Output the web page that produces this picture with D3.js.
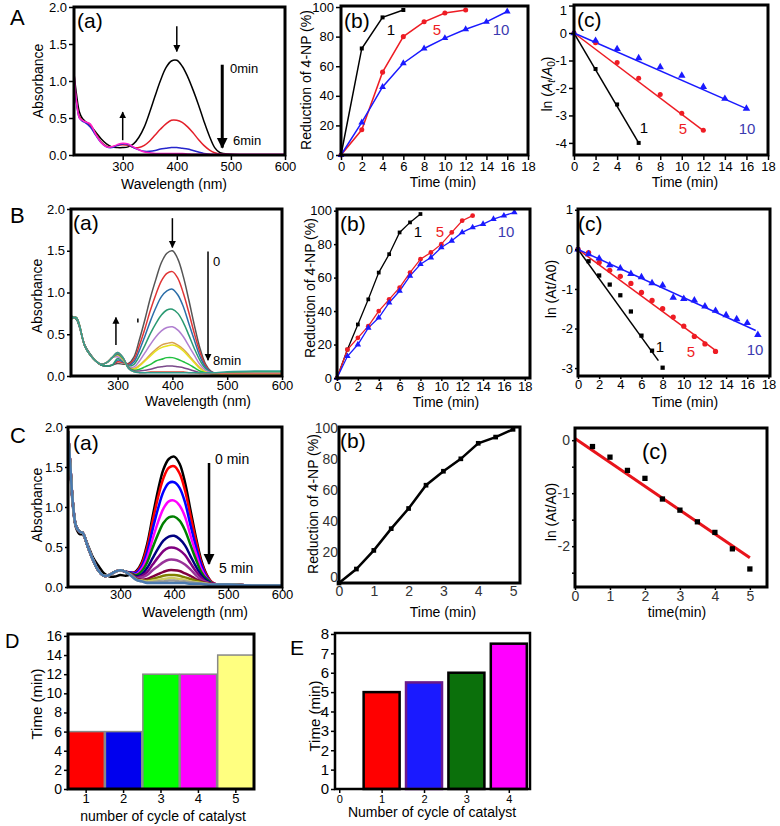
<!DOCTYPE html>
<html><head><meta charset="utf-8">
<script src="https://cdn.jsdelivr.net/npm/d3@7"></script>
<style>body{margin:0;background:#fff}svg{display:block}</style>
</head><body><svg id="c" width="780" height="826"></svg>
<script>
// ================= DATA =================
// Panel A(a) spectra
const WL_A = [210,215,220,225,230,240,250,260,270,280,290,300,310,320,330,340,350,360,370,380,390,400,410,420,430,440,450,460,470,480,500,550,600];
const A_spec_black = [1.10,0.80,0.58,0.50,0.46,0.40,0.31,0.22,0.15,0.11,0.10,0.10,0.11,0.15,0.24,0.38,0.58,0.80,1.01,1.18,1.27,1.28,1.20,1.06,0.88,0.68,0.46,0.26,0.10,0.03,0.01,0.0,0.0];
const A_spec_red   = [1.00,0.70,0.52,0.47,0.45,0.40,0.29,0.18,0.12,0.11,0.13,0.14,0.13,0.10,0.10,0.13,0.19,0.27,0.35,0.42,0.47,0.47,0.44,0.38,0.30,0.21,0.13,0.07,0.03,0.01,0.005,0,0];
const A_spec_blue  = [0.95,0.68,0.50,0.46,0.44,0.38,0.27,0.17,0.11,0.10,0.13,0.15,0.14,0.10,0.07,0.05,0.05,0.06,0.08,0.09,0.10,0.10,0.09,0.08,0.06,0.04,0.02,0.01,0.005,0,0,0,0];
const A_spec_mag   = [1.12,0.70,0.50,0.47,0.45,0.42,0.28,0.17,0.11,0.11,0.14,0.16,0.15,0.11,0.07,0.04,0.03,0.02,0.02,0.02,0.02,0.02,0.02,0.015,0.01,0.01,0.01,0.01,0.01,0.01,0.01,0.01,0.01];
const A_spec_colors = ['#000000','#e3202a','#2626cc','#ff22cc'];

// Panel A(b), A(c)
const A_t1 = [0,2,4,6];
const A_t5 = [0,2,4,6,8,10,12];
const A_t10 = [0,2,4,6,8,10,12,14,16];
const A_red1 = [0,72,93,98];
const A_red5 = [0,17,56,80,90,96,98];
const A_red10 = [0,22,46,62,72,79,85,90,97];
const A_ln1 = [0,-1.31,-2.6,-4.0];
const A_ln5 = [0,-0.35,-1.07,-1.65,-2.24,-2.92,-3.54];
const A_ln10 = [0,-0.28,-0.58,-0.91,-1.24,-1.55,-1.96,-2.39,-2.75];
const A_fitEndT = [6,12,16];
const A_fitEndY = [-4.0,-3.55,-2.75];
const series_labels = ['1','5','10'];

// Panel B(a) spectra
const WL_B = [215,220,225,230,240,250,260,270,280,290,300,310,320,330,340,350,360,370,380,390,400,410,420,430,440,450,460,470,480,500,550,600];
const B_left_early = [0.72,0.70,0.68,0.60,0.37,0.26,0.18,0.13,0.12,0.13];
const B_left_late  = [0.68,0.70,0.70,0.62,0.36,0.25,0.18,0.14,0.16,0.22];
const B_right = [
  [0.15,0.14,0.15,0.23,0.44,0.68,0.94,1.16,1.36,1.47,1.50,1.40,1.19,0.91,0.61,0.34,0.15,0.06,0.03,0.02,0.02,0.02],
  [0.17,0.16,0.14,0.20,0.37,0.57,0.79,0.98,1.14,1.23,1.25,1.17,0.99,0.76,0.51,0.29,0.13,0.05,0.03,0.02,0.02,0.02],
  [0.19,0.17,0.13,0.17,0.31,0.48,0.66,0.82,0.95,1.02,1.04,0.97,0.83,0.63,0.43,0.24,0.11,0.05,0.03,0.02,0.02,0.02],
  [0.21,0.18,0.12,0.14,0.24,0.37,0.51,0.63,0.73,0.79,0.80,0.75,0.64,0.49,0.33,0.19,0.09,0.04,0.03,0.03,0.03,0.03],
  [0.23,0.19,0.11,0.11,0.18,0.28,0.38,0.47,0.54,0.58,0.59,0.55,0.47,0.36,0.25,0.14,0.07,0.04,0.03,0.03,0.03,0.03],
  [0.25,0.20,0.10,0.09,0.13,0.19,0.26,0.32,0.37,0.39,0.40,0.37,0.32,0.25,0.17,0.10,0.05,0.03,0.02,0.02,0.02,0.02],
  [0.26,0.20,0.10,0.08,0.12,0.18,0.24,0.30,0.34,0.36,0.37,0.35,0.30,0.23,0.16,0.09,0.05,0.03,0.02,0.02,0.02,0.02],
  [0.26,0.21,0.10,0.07,0.08,0.11,0.14,0.18,0.20,0.22,0.22,0.20,0.17,0.14,0.10,0.06,0.04,0.03,0.03,0.04,0.05,0.05],
  [0.27,0.22,0.10,0.06,0.06,0.07,0.08,0.10,0.11,0.12,0.12,0.11,0.10,0.08,0.06,0.04,0.03,0.03,0.03,0.03,0.03,0.03],
  [0.28,0.22,0.09,0.05,0.04,0.04,0.05,0.05,0.05,0.05,0.05,0.05,0.05,0.04,0.04,0.03,0.03,0.03,0.03,0.03,0.03,0.03],
  [0.28,0.22,0.09,0.05,0.04,0.04,0.04,0.04,0.04,0.04,0.04,0.04,0.04,0.04,0.04,0.04,0.04,0.04,0.04,0.05,0.06,0.06]
];
const B_spec_colors = ['#555555','#e03535','#2c6ea8','#2a9a72','#b07fd0','#d9a050','#e6e020','#22c040','#7a4a8a','#e07060','#30a090'];

// Panel B(b), B(c)
const B_t1 = [0,1,2,3,4,5,6,7,8];
const B_t5 = [0,1,2,3,4,5,6,7,8,9,10,11,12,13];
const B_t10 = [0,1,2,3,4,5,6,7,8,9,10,11,12,13,14,15,16,17];
const B_red1 = [0,17,32,47,63,74,87,93,98];
const B_red5 = [0,17,24,31,40,47,54,63,71,75,80,87,94,97];
const B_red10 = [0,13,20,30,36,45,52,61,68,72,78,82,87,90,92,95,97,99];
const B_ln1 = [0,-0.30,-0.66,-0.89,-1.16,-1.57,-2.18,-2.56,-2.99];
const B_ln5 = [0,-0.08,-0.33,-0.53,-0.68,-0.86,-1.09,-1.29,-1.50,-1.71,-1.94,-2.20,-2.39,-2.58];
const B_ln10 = [0,-0.12,-0.23,-0.40,-0.48,-0.62,-0.70,-0.85,-0.91,-1.22,-1.25,-1.29,-1.44,-1.55,-1.66,-1.76,-1.86,-2.16];
const B_fitEndT = [7.6,13,16.8];
const B_fitEndY = [-2.81,-2.55,-2.05];

// Panel C(a) spectra
const WL_C = [203,207,212,218,225,230,240,250,260,270,280,290,300,310,320,330,340,350,360,370,380,390,400,410,420,430,440,450,460,470,480,500,550,600];
const C_left_black  = [1.90,1.50,1.02,0.74,0.66,0.66,0.52,0.36,0.26,0.17,0.13,0.13,0.15,0.14];
const C_left_common = [1.95,1.55,1.05,0.76,0.69,0.68,0.50,0.33,0.20,0.14,0.15,0.19,0.21,0.19];
const C_right = [
  [0.16,0.20,0.31,0.54,0.88,1.21,1.47,1.60,1.63,1.54,1.31,0.97,0.63,0.34,0.16,0.06,0.03,0.03,0.02,0.02],
  [0.18,0.19,0.29,0.50,0.82,1.12,1.36,1.49,1.51,1.42,1.21,0.90,0.59,0.31,0.15,0.06,0.03,0.03,0.02,0.02],
  [0.18,0.18,0.26,0.44,0.72,0.98,1.19,1.30,1.31,1.24,1.06,0.78,0.51,0.28,0.13,0.05,0.03,0.03,0.02,0.02],
  [0.17,0.16,0.23,0.37,0.60,0.81,0.98,1.07,1.08,1.02,0.88,0.65,0.43,0.23,0.11,0.05,0.03,0.03,0.02,0.02],
  [0.17,0.15,0.20,0.31,0.49,0.66,0.80,0.87,0.88,0.83,0.71,0.53,0.35,0.19,0.10,0.05,0.03,0.03,0.02,0.02],
  [0.16,0.13,0.16,0.24,0.36,0.48,0.58,0.63,0.64,0.60,0.52,0.39,0.26,0.15,0.08,0.04,0.03,0.03,0.02,0.02],
  [0.16,0.12,0.14,0.19,0.28,0.37,0.45,0.49,0.49,0.46,0.40,0.30,0.20,0.12,0.06,0.04,0.03,0.03,0.02,0.02],
  [0.15,0.11,0.12,0.15,0.21,0.26,0.31,0.34,0.34,0.32,0.28,0.22,0.15,0.09,0.06,0.04,0.03,0.03,0.02,0.02],
  [0.15,0.10,0.09,0.10,0.13,0.16,0.19,0.21,0.21,0.20,0.17,0.14,0.10,0.07,0.05,0.04,0.03,0.03,0.02,0.02],
  [0.15,0.10,0.08,0.08,0.10,0.12,0.14,0.15,0.15,0.14,0.12,0.10,0.08,0.06,0.04,0.03,0.03,0.03,0.02,0.02],
  [0.15,0.09,0.08,0.07,0.08,0.09,0.10,0.11,0.11,0.10,0.09,0.07,0.06,0.05,0.04,0.03,0.03,0.03,0.02,0.02],
  [0.14,0.09,0.07,0.06,0.06,0.07,0.07,0.08,0.08,0.07,0.07,0.06,0.05,0.04,0.04,0.03,0.03,0.03,0.02,0.02],
  [0.14,0.09,0.07,0.05,0.05,0.05,0.05,0.05,0.05,0.05,0.05,0.04,0.04,0.04,0.03,0.03,0.03,0.03,0.02,0.02]
];
const C_spec_colors = ['#000000','#ff0000','#0000ff','#ff00ff','#008000','#000080','#800080','#993399','#800040','#808000','#cccc66','#999999','#4a7ab0'];

// Panel C(b), C(c)
const C_t = [0,0.5,1,1.5,2,2.5,3,3.5,4,4.5,5];
const C_red = [0,9,21,35,48,63,72,80,90,94,99];
const C_tln = [0.5,1,1.5,2,2.5,3,3.5,4,4.5,5];
const C_ln = [-0.12,-0.32,-0.57,-0.72,-1.11,-1.32,-1.54,-1.74,-2.05,-2.43];
const C_fitT = [0,5];
const C_fitY = [0.03,-2.22];

// Panel D, E
const D_cycles = ['1','2','3','4','5'];
const D_time = [6,6,12,12,14];
const D_colors = ['#ff0000','#0000ee','#00ff00','#ff00ff','#ffff80'];
const E_cycles = [1,2,3,4];
const E_time = [5,5.5,6,7.5];
const E_colors = ['#ff0000','#1a1aff','#0b700b','#ff00ff'];
const E_strokes = ['#000','#6a1a8a','#000','#000'];

// ================= DRAWING =================
const FONT = "'Liberation Sans', Arial, Helvetica, sans-serif";
const svg = d3.select('#c');
svg.append('rect').attr('width',780).attr('height',826).attr('fill','#fff');
const defs = svg.append('defs');
[['ahS',9,7],['ahB',14,11]].forEach(([id,l,w])=>{
  defs.append('marker').attr('id',id).attr('viewBox','0 0 10 10').attr('refX',9).attr('refY',5)
    .attr('markerUnits','userSpaceOnUse').attr('markerWidth',w).attr('markerHeight',l).attr('orient','auto')
    .append('path').attr('d','M0,0 L10,5 L0,10 z').attr('fill','#000');
});
let cid = 0;
function makePanel(box, xd, yd){
  const [x0,y0,x1,y1]=box;
  const x=d3.scaleLinear().domain(xd).range([x0,x1]);
  const y=d3.scaleLinear().domain(yd).range([y1,y0]);
  const id='cp'+(cid++);
  defs.append('clipPath').attr('id',id).append('rect').attr('x',x0).attr('y',y0).attr('width',x1-x0).attr('height',y1-y0);
  const g=svg.append('g');
  const plot=g.append('g').attr('clip-path',`url(#${id})`);
  return {x,y,g,plot,box};
}
function axes(p,o){
  const [x0,y0,x1,y1]=p.box;
  const bx=d3.axisBottom(p.x).tickValues(o.xt).tickSize(o.ts??5).tickPadding(o.tpx??2).tickFormat(o.xf||String);
  const gx=p.g.append('g').attr('transform',`translate(0,${y1})`).call(bx);
  const by=d3.axisLeft(p.y).tickValues(o.yt).tickSize(o.ts??5).tickPadding(o.tpy??2).tickFormat(o.yf||String);
  const gy=p.g.append('g').attr('transform',`translate(${x0},0)`).call(by);
  [gx,gy].forEach(a=>{
    a.select('.domain').remove();
    a.attr('font-family',FONT).attr('font-size',o.fs||13);
    a.selectAll('line').attr('stroke-width',o.tw||1.5);
    a.selectAll('text').attr('fill',o.tc||'#000');
  });
  if(o.top!==undefined) gy.selectAll('.tick').filter(d=>d===o.top).select('text').attr('dy','0.7em');
  if(o.bottomUp!==undefined) gy.selectAll('.tick').filter(d=>d===o.bottomUp).select('text').attr('dy','-0.1em');
  p.g.append('rect').attr('x',x0).attr('y',y0).attr('width',x1-x0).attr('height',y1-y0)
    .attr('fill','none').attr('stroke','#000').attr('stroke-width',o.bw||3);
  return {gx,gy};
}
function T(x,y,s,o={}){
  return svg.append('text').attr('x',x).attr('y',y).text(s).attr('font-family',FONT)
    .attr('font-size',o.fs||14).attr('fill',o.c||'#000').attr('text-anchor',o.a||'start');
}
function VT(x,y,s,fs){
  return svg.append('text').attr('transform',`translate(${x},${y}) rotate(-90)`).text(s)
    .attr('font-family',FONT).attr('font-size',fs||14).attr('text-anchor','middle');
}
function arrow(x1,y1,x2,y2,w,m){
  svg.append('line').attr('x1',x1).attr('y1',y1).attr('x2',x2).attr('y2',y2)
    .attr('stroke','#000').attr('stroke-width',w).attr('marker-end',`url(#${m})`);
}
function spectrum(p,wl,vals,color,w){
  const line=d3.line().x((d,i)=>p.x(wl[i])).y(d=>p.y(d)).curve(d3.curveCatmullRom.alpha(0.5));
  p.plot.append('path').attr('d',line(vals)).attr('fill','none').attr('stroke',color).attr('stroke-width',w);
}
function series(p,ts,vs,color,w){
  const line=d3.line().x((d,i)=>p.x(ts[i])).y(d=>p.y(d));
  p.g.append('path').attr('d',line(vs)).attr('fill','none').attr('stroke',color).attr('stroke-width',w);
}
function symbols(p,ts,vs,type,size,color){
  const sym=d3.symbol().type(type).size(size);
  p.g.selectAll(null).data(vs).enter().append('path').attr('d',sym)
    .attr('transform',(d,i)=>`translate(${p.x(ts[i])},${p.y(d)})`).attr('fill',color);
}
function fitLine(p,t0,y0,t1,y1,color,w){
  p.g.append('line').attr('x1',p.x(t0)).attr('y1',p.y(y0)).attr('x2',p.x(t1)).attr('y2',p.y(y1))
    .attr('stroke',color).attr('stroke-width',w);
}
function lnLabel(x,y,subs,fs){
  const t=svg.append('text').attr('transform',`translate(${x},${y}) rotate(-90)`).attr('font-family',FONT)
    .attr('font-size',fs||14).attr('text-anchor','middle');
  if(subs){
    t.append('tspan').text('ln (');
    t.append('tspan').text('A').attr('font-style','italic');
    t.append('tspan').text('t').attr('font-style','italic').attr('font-size',10).attr('dy',3);
    t.append('tspan').text('/').attr('dy',-3);
    t.append('tspan').text('A').attr('font-style','italic');
    t.append('tspan').text('0').attr('font-size',10).attr('dy',3);
    t.append('tspan').text(')').attr('dy',-3);
  } else t.text('ln (At/A0)');
}
const cBlack='#000', cRed='#ee1c24', cBlue='#1a1aff', cLab10='#3a3ab0';
const fmt1=d3.format('.1f'), fmtS=d=>String(d);

// ---------- Row A ----------
const pAa=makePanel([74,7,285,155],[210,600],[0,2]);
[A_spec_black,A_spec_red,A_spec_blue,A_spec_mag].forEach((v,i)=>spectrum(pAa,WL_A,v,A_spec_colors[i],1.5));
axes(pAa,{xt:[300,400,500,600],yt:[0,0.5,1,1.5,2],yf:fmt1});
arrow(pAa.x(400),pAa.y(1.74),pAa.x(400),pAa.y(1.40),1.5,'ahS');
arrow(pAa.x(300),pAa.y(0.2),pAa.x(300),pAa.y(0.58),1.5,'ahS');
arrow(pAa.x(484),pAa.y(1.22),pAa.x(484),pAa.y(0.10),3,'ahB');
T(230,73,'0min',{fs:13});T(233,145,'6min',{fs:13});

const pAb=makePanel([341,6,528,155],[0,18],[0,100.7]);
series(pAb,A_t1,A_red1,cBlack,1.5);series(pAb,A_t5,A_red5,cRed,1.5);series(pAb,A_t10,A_red10,cBlue,1.5);
symbols(pAb,A_t1,A_red1,d3.symbolSquare,16,cBlack);
symbols(pAb,A_t5,A_red5,d3.symbolCircle,20,cRed);
symbols(pAb,A_t10,A_red10,d3.symbolTriangle,20,cBlue);
axes(pAb,{xt:d3.range(0,19,2),yt:d3.range(0,101,20)});
T(391,35,series_labels[0],{fs:15,a:'middle'});T(437,35,series_labels[1],{fs:15,a:'middle',c:cRed});T(501,35,series_labels[2],{fs:15,a:'middle',c:cLab10});

const pAc=makePanel([574,5,768,155],[0,18],[-4.44,1.02]);
fitLine(pAc,0,0,A_fitEndT[0],A_fitEndY[0],cBlack,1.5);
fitLine(pAc,0,0,A_fitEndT[1],A_fitEndY[1],cRed,1.5);
fitLine(pAc,0,0,A_fitEndT[2],A_fitEndY[2],cBlue,1.5);
symbols(pAc,A_t1,A_ln1,d3.symbolSquare,16,cBlack);
symbols(pAc,A_t5,A_ln5,d3.symbolCircle,20,cRed);
symbols(pAc,A_t10,A_ln10,d3.symbolTriangle,24,cBlue);
axes(pAc,{xt:d3.range(0,19,2),yt:[1,0,-1,-2,-3,-4],yf:fmtS,top:1});
T(644,133,series_labels[0],{fs:15,a:'middle'});T(683,134,series_labels[1],{fs:15,a:'middle',c:cRed});T(747,134,series_labels[2],{fs:15,a:'middle',c:cLab10});

T(10,25,'A',{fs:22});
T(77,28,'(a)',{fs:21});T(344,28,'(b)',{fs:21});T(577,27,'(c)',{fs:21});
VT(43,81,'Absorbance');T(174,189,'Wavelength (nm)',{a:'middle'});
VT(311,80,'Reduction of 4-NP (%)');T(443,187,'Time (min)',{a:'middle'});
lnLabel(552,84,true);T(685,187,'Time (min)',{a:'middle'});

// ---------- Row B ----------
const pBa=makePanel([71,209,282,376],[215,600],[0,2]);
B_right.forEach((r,i)=>spectrum(pBa,WL_B,(i<4?B_left_early:B_left_late).concat(r),B_spec_colors[i],1.5));
axes(pBa,{xt:[300,400,500,600],yt:[0,0.5,1,1.5,2],yf:fmt1,ts:4,tpx:1});
arrow(pBa.x(400),pBa.y(1.89),pBa.x(400),pBa.y(1.54),1.5,'ahS');
arrow(pBa.x(297),pBa.y(0.37),pBa.x(297),pBa.y(0.70),1.5,'ahS');
svg.append('line').attr('x1',pBa.x(337)).attr('x2',pBa.x(337)).attr('y1',pBa.y(0.69)).attr('y2',pBa.y(0.64)).attr('stroke','#000').attr('stroke-width',1.5);
arrow(pBa.x(465),pBa.y(1.49),pBa.x(465),pBa.y(0.19),1.5,'ahS');
T(213,266,'0',{fs:13});T(213,365,'8min',{fs:13});

const pBb=makePanel([337,209,530,378],[0,18.5],[0,101]);
series(pBb,B_t1,B_red1,cBlack,1.3);series(pBb,B_t5,B_red5,cRed,1.3);series(pBb,B_t10,B_red10,cBlue,1.3);
symbols(pBb,B_t1,B_red1,d3.symbolSquare,14,cBlack);
symbols(pBb,B_t5,B_red5,d3.symbolCircle,18,cRed);
symbols(pBb,B_t10,B_red10,d3.symbolTriangle,18,cBlue);
axes(pBb,{xt:d3.range(0,19,2),yt:d3.range(0,101,20),ts:3,tpx:1});
T(418,237,series_labels[0],{fs:15,a:'middle'});T(440,237,series_labels[1],{fs:15,a:'middle',c:cRed});T(506,237,series_labels[2],{fs:15,a:'middle',c:cLab10});

const pBc=makePanel([578,209,770,376],[0,18.15],[-3.2,1.02]);
fitLine(pBc,0,0,B_fitEndT[0],B_fitEndY[0],cBlack,1.5);
fitLine(pBc,0,0,B_fitEndT[1],B_fitEndY[1],cRed,1.5);
fitLine(pBc,0,0,B_fitEndT[2],B_fitEndY[2],cBlue,1.5);
symbols(pBc,B_t1,B_ln1,d3.symbolSquare,18,cBlack);
symbols(pBc,B_t5,B_ln5,d3.symbolCircle,22,cRed);
symbols(pBc,B_t10,B_ln10,d3.symbolTriangle,24,cBlue);
axes(pBc,{xt:d3.range(0,19,2),yt:[1,0,-1,-2,-3],yf:fmtS,ts:3,tpx:1});
T(660,352,series_labels[0],{fs:15,a:'middle'});T(691,357,series_labels[1],{fs:15,a:'middle',c:cRed});T(755,355,series_labels[2],{fs:15,a:'middle',c:cLab10});

T(10,223,'B',{fs:22});
T(73,230,'(a)',{fs:21});T(340,231,'(b)',{fs:21});T(578,231,'(c)',{fs:21});
VT(42,296,'Absorbance');T(198,406,'Wavelength (nm)',{a:'middle'});
VT(315,288,'Reduction of 4-NP (%)');T(446,407,'Time (min)',{a:'middle'});
lnLabel(556,289,false);T(685,407,'Time (min)',{a:'middle'});

// ---------- Row C ----------
const pCa=makePanel([68,427,282,587],[203,600],[0,2]);
C_right.forEach((r,i)=>spectrum(pCa,WL_C,(i===0?C_left_black:C_left_common).concat(r),C_spec_colors[i],2.5));
axes(pCa,{xt:[300,400,500,600],yt:[0,0.5,1,1.5,2],yf:fmt1,ts:3,tpx:0});
arrow(pCa.x(464.6),pCa.y(1.55),pCa.x(464.6),pCa.y(0.29),2.5,'ahB');
T(215,464,'0 min',{fs:14});T(219,573,'5 min',{fs:14});

const pCb=makePanel([339,427,520,583],[0,5.2],[0,100.5]);
series(pCb,C_t,C_red,cBlack,2.5);
symbols(pCb,C_t,C_red,d3.symbolSquare,22,cBlack);
axes(pCb,{xt:[0,1,2,3,4,5],yt:d3.range(0,101,20),ts:0,tpy:1,tpx:3,fs:14,tc:'#333',bottomUp:0});

const pCc=makePanel([575,428,767,587],[0,5.49],[-2.77,0.23]);
fitLine(pCc,C_fitT[0],C_fitY[0],C_fitT[1],C_fitY[1],'#e8141b',3);
symbols(pCc,C_tln,C_ln,d3.symbolSquare,28,cBlack);
axes(pCc,{xt:[0,1,2,3,4,5],yt:[0,-0.5,-1,-1.5,-2,-2.5],yf:d=>Number.isInteger(d)?String(d):'',ts:3,tpx:1,fs:14,tc:'#333'});

T(10,443,'C',{fs:22});
T(73,450,'(a)',{fs:21});T(340,448,'(b)',{fs:21});T(642,459,'(c)',{fs:22});
VT(42,505,'Absorbance');T(195,617,'Wavelength (nm)',{a:'middle'});
VT(318,504,'Reduction of 4-NP (%)');T(443,617,'Time (min)',{a:'middle'});
lnLabel(556,512,false);T(677,617,'time(min)',{a:'middle'});

// ---------- D ----------
{
  const x=d3.scaleBand().domain(D_cycles).range([68,254]).paddingInner(0.03).paddingOuter(0);
  const y=d3.scaleLinear().domain([0,16.2]).range([789,634]);
  const g=svg.append('g');
  g.selectAll(null).data(D_time).enter().append('rect')
    .attr('x',(d,i)=>x(D_cycles[i])).attr('width',x.bandwidth())
    .attr('y',d=>y(d)).attr('height',d=>y(0)-y(d))
    .attr('fill',(d,i)=>D_colors[i]).attr('stroke','#888').attr('stroke-width',1.5);
  const gx=g.append('g').attr('transform','translate(0,789)').call(d3.axisBottom(x).tickSize(4).tickPadding(1));
  const gy=g.append('g').attr('transform','translate(68,0)').call(d3.axisLeft(y).tickValues(d3.range(0,17,2)).tickSize(4).tickPadding(2).tickFormat(String));
  [gx,gy].forEach(a=>{a.select('.domain').remove();a.attr('font-family',FONT).attr('font-size',14);a.selectAll('line').attr('stroke-width',1.5);a.selectAll('text').attr('fill','#000');});
  gx.attr('font-size',13);
  g.append('rect').attr('x',68).attr('y',634).attr('width',186).attr('height',155).attr('fill','none').attr('stroke','#000').attr('stroke-width',3);
  T(5,648,'D',{fs:20});
  VT(42,704,'Time (min)',15);
  T(163,821,'number  of cycle of catalyst',{a:'middle',fs:14});
}
// ---------- E ----------
{
  const x=d3.scaleLinear().domain([-0.1,4.5]).range([335,530]);
  const y=d3.scaleLinear().domain([0,8.05]).range([789,633]);
  const bw=36;
  const g=svg.append('g');
  g.selectAll(null).data(E_time).enter().append('rect')
    .attr('x',(d,i)=>x(E_cycles[i])-bw/2).attr('width',bw)
    .attr('y',d=>y(d)).attr('height',d=>y(0)-y(d))
    .attr('fill',(d,i)=>E_colors[i]).attr('stroke',(d,i)=>E_strokes[i]).attr('stroke-width',2.5);
  const gx=g.append('g').attr('transform','translate(0,789)').call(d3.axisBottom(x).tickValues([0,1,2,3,4]).tickSize(4).tickPadding(2).tickFormat(String));
  const gy=g.append('g').attr('transform','translate(335,0)').call(d3.axisLeft(y).tickValues(d3.range(0,9,1)).tickSize(4).tickPadding(2).tickFormat(String));
  gx.attr('font-size',11);gy.attr('font-size',15);
  [gx,gy].forEach(a=>{a.select('.domain').remove();a.attr('font-family',FONT);a.selectAll('line').attr('stroke-width',1.5);a.selectAll('text').attr('fill','#000');});
  g.append('rect').attr('x',335).attr('y',633).attr('width',195).attr('height',156).attr('fill','none').attr('stroke','#000').attr('stroke-width',2.5);
  T(290,655,'E',{fs:21});
  VT(320,716,'Time (min)',15);
  T(432,817,'Number  of cycle of catalyst',{a:'middle',fs:14});
}
</script></body></html>
